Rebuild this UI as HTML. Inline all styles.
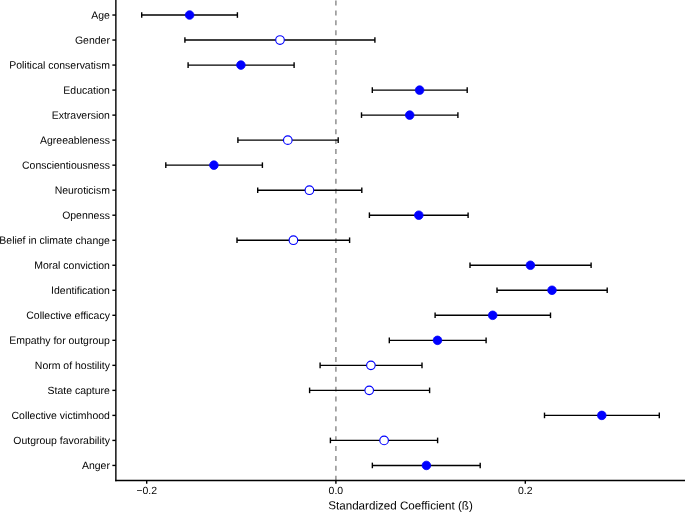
<!DOCTYPE html>
<html><head><meta charset="utf-8"><title>Forest plot</title>
<style>
html,body{margin:0;padding:0;background:#fff;}
body{width:685px;height:512px;overflow:hidden;}
svg{display:block;}
text{font-family:"Liberation Sans",sans-serif;fill:#000;text-rendering:geometricPrecision;}
#txt{filter:grayscale(1);}
</style></head><body>
<svg width="685" height="512" viewBox="0 0 685 512">
<rect x="0" y="0" width="685" height="512" fill="#ffffff"/>
<line x1="335.9" y1="0.55" x2="335.9" y2="480.5" stroke="#8c8c8c" stroke-width="1.45" stroke-dasharray="4.95 4.95"/>
<g stroke="#000" stroke-width="1.4" fill="none"><line x1="141.7" y1="15.03" x2="237.4" y2="15.03"/><line x1="141.7" y1="12.23" x2="141.7" y2="17.83"/><line x1="237.4" y1="12.23" x2="237.4" y2="17.83"/></g>
<g stroke="#000" stroke-width="1.4" fill="none"><line x1="184.9" y1="40.05" x2="374.9" y2="40.05"/><line x1="184.9" y1="37.25" x2="184.9" y2="42.85"/><line x1="374.9" y1="37.25" x2="374.9" y2="42.85"/></g>
<g stroke="#000" stroke-width="1.4" fill="none"><line x1="188.1" y1="65.08" x2="294.1" y2="65.08"/><line x1="188.1" y1="62.28" x2="188.1" y2="67.88"/><line x1="294.1" y1="62.28" x2="294.1" y2="67.88"/></g>
<g stroke="#000" stroke-width="1.4" fill="none"><line x1="372.3" y1="90.1" x2="467.2" y2="90.1"/><line x1="372.3" y1="87.3" x2="372.3" y2="92.9"/><line x1="467.2" y1="87.3" x2="467.2" y2="92.9"/></g>
<g stroke="#000" stroke-width="1.4" fill="none"><line x1="361.5" y1="115.12" x2="457.9" y2="115.12"/><line x1="361.5" y1="112.32" x2="361.5" y2="117.92"/><line x1="457.9" y1="112.32" x2="457.9" y2="117.92"/></g>
<g stroke="#000" stroke-width="1.4" fill="none"><line x1="237.9" y1="140.14" x2="338.2" y2="140.14"/><line x1="237.9" y1="137.34" x2="237.9" y2="142.94"/><line x1="338.2" y1="137.34" x2="338.2" y2="142.94"/></g>
<g stroke="#000" stroke-width="1.4" fill="none"><line x1="165.8" y1="165.17" x2="262.4" y2="165.17"/><line x1="165.8" y1="162.37" x2="165.8" y2="167.97"/><line x1="262.4" y1="162.37" x2="262.4" y2="167.97"/></g>
<g stroke="#000" stroke-width="1.4" fill="none"><line x1="257.7" y1="190.19" x2="361.8" y2="190.19"/><line x1="257.7" y1="187.39" x2="257.7" y2="192.99"/><line x1="361.8" y1="187.39" x2="361.8" y2="192.99"/></g>
<g stroke="#000" stroke-width="1.4" fill="none"><line x1="369.4" y1="215.21" x2="468.1" y2="215.21"/><line x1="369.4" y1="212.41" x2="369.4" y2="218.01"/><line x1="468.1" y1="212.41" x2="468.1" y2="218.01"/></g>
<g stroke="#000" stroke-width="1.4" fill="none"><line x1="237.0" y1="240.24" x2="349.6" y2="240.24"/><line x1="237.0" y1="237.44" x2="237.0" y2="243.04"/><line x1="349.6" y1="237.44" x2="349.6" y2="243.04"/></g>
<g stroke="#000" stroke-width="1.4" fill="none"><line x1="470.0" y1="265.26" x2="591.1" y2="265.26"/><line x1="470.0" y1="262.46" x2="470.0" y2="268.06"/><line x1="591.1" y1="262.46" x2="591.1" y2="268.06"/></g>
<g stroke="#000" stroke-width="1.4" fill="none"><line x1="497.0" y1="290.28" x2="607.2" y2="290.28"/><line x1="497.0" y1="287.48" x2="497.0" y2="293.08"/><line x1="607.2" y1="287.48" x2="607.2" y2="293.08"/></g>
<g stroke="#000" stroke-width="1.4" fill="none"><line x1="435.1" y1="315.31" x2="550.5" y2="315.31"/><line x1="435.1" y1="312.51" x2="435.1" y2="318.11"/><line x1="550.5" y1="312.51" x2="550.5" y2="318.11"/></g>
<g stroke="#000" stroke-width="1.4" fill="none"><line x1="389.3" y1="340.33" x2="486.1" y2="340.33"/><line x1="389.3" y1="337.53" x2="389.3" y2="343.13"/><line x1="486.1" y1="337.53" x2="486.1" y2="343.13"/></g>
<g stroke="#000" stroke-width="1.4" fill="none"><line x1="320.1" y1="365.35" x2="422.0" y2="365.35"/><line x1="320.1" y1="362.55" x2="320.1" y2="368.15"/><line x1="422.0" y1="362.55" x2="422.0" y2="368.15"/></g>
<g stroke="#000" stroke-width="1.4" fill="none"><line x1="309.6" y1="390.37" x2="429.6" y2="390.37"/><line x1="309.6" y1="387.57" x2="309.6" y2="393.17"/><line x1="429.6" y1="387.57" x2="429.6" y2="393.17"/></g>
<g stroke="#000" stroke-width="1.4" fill="none"><line x1="544.5" y1="415.4" x2="659.3" y2="415.4"/><line x1="544.5" y1="412.6" x2="544.5" y2="418.2"/><line x1="659.3" y1="412.6" x2="659.3" y2="418.2"/></g>
<g stroke="#000" stroke-width="1.4" fill="none"><line x1="330.4" y1="440.42" x2="437.6" y2="440.42"/><line x1="330.4" y1="437.62" x2="330.4" y2="443.22"/><line x1="437.6" y1="437.62" x2="437.6" y2="443.22"/></g>
<g stroke="#000" stroke-width="1.4" fill="none"><line x1="372.35" y1="465.44" x2="480.2" y2="465.44"/><line x1="372.35" y1="462.64" x2="372.35" y2="468.24"/><line x1="480.2" y1="462.64" x2="480.2" y2="468.24"/></g>
<circle cx="189.6" cy="15.03" r="4.3" fill="#0000ff" stroke="#0000ff" stroke-width="0.8"/>
<circle cx="280.0" cy="40.05" r="4.3" fill="#ffffff" stroke="#0000ff" stroke-width="1.15"/>
<circle cx="240.9" cy="65.08" r="4.3" fill="#0000ff" stroke="#0000ff" stroke-width="0.8"/>
<circle cx="419.6" cy="90.1" r="4.3" fill="#0000ff" stroke="#0000ff" stroke-width="0.8"/>
<circle cx="409.7" cy="115.12" r="4.3" fill="#0000ff" stroke="#0000ff" stroke-width="0.8"/>
<circle cx="287.8" cy="140.14" r="4.3" fill="#ffffff" stroke="#0000ff" stroke-width="1.15"/>
<circle cx="213.9" cy="165.17" r="4.3" fill="#0000ff" stroke="#0000ff" stroke-width="0.8"/>
<circle cx="309.4" cy="190.19" r="4.3" fill="#ffffff" stroke="#0000ff" stroke-width="1.15"/>
<circle cx="418.8" cy="215.21" r="4.3" fill="#0000ff" stroke="#0000ff" stroke-width="0.8"/>
<circle cx="293.4" cy="240.24" r="4.3" fill="#ffffff" stroke="#0000ff" stroke-width="1.15"/>
<circle cx="530.4" cy="265.26" r="4.3" fill="#0000ff" stroke="#0000ff" stroke-width="0.8"/>
<circle cx="552.0" cy="290.28" r="4.3" fill="#0000ff" stroke="#0000ff" stroke-width="0.8"/>
<circle cx="492.7" cy="315.31" r="4.3" fill="#0000ff" stroke="#0000ff" stroke-width="0.8"/>
<circle cx="437.5" cy="340.33" r="4.3" fill="#0000ff" stroke="#0000ff" stroke-width="0.8"/>
<circle cx="370.9" cy="365.35" r="4.3" fill="#ffffff" stroke="#0000ff" stroke-width="1.15"/>
<circle cx="369.2" cy="390.37" r="4.3" fill="#ffffff" stroke="#0000ff" stroke-width="1.15"/>
<circle cx="601.8" cy="415.4" r="4.3" fill="#0000ff" stroke="#0000ff" stroke-width="0.8"/>
<circle cx="384.1" cy="440.42" r="4.3" fill="#ffffff" stroke="#0000ff" stroke-width="1.15"/>
<circle cx="426.4" cy="465.44" r="4.3" fill="#0000ff" stroke="#0000ff" stroke-width="0.8"/>
<line x1="115.87" y1="0" x2="115.87" y2="481.15" stroke="#000" stroke-width="1.4"/>
<line x1="115.17" y1="480.5" x2="685" y2="480.5" stroke="#000" stroke-width="1.3"/>
<g id="txt"><line x1="112.37" y1="15.03" x2="115.87" y2="15.03" stroke="#000" stroke-width="1.4"/><text x="109.9" y="18.73" transform="rotate(0.1 109.9 18.73)" font-size="10.47" text-anchor="end">Age</text>
<line x1="112.37" y1="40.05" x2="115.87" y2="40.05" stroke="#000" stroke-width="1.4"/><text x="109.9" y="43.75" transform="rotate(0.1 109.9 43.75)" font-size="10.47" text-anchor="end">Gender</text>
<line x1="112.37" y1="65.08" x2="115.87" y2="65.08" stroke="#000" stroke-width="1.4"/><text x="109.9" y="68.78" transform="rotate(0.1 109.9 68.78)" font-size="10.47" text-anchor="end">Political conservatism</text>
<line x1="112.37" y1="90.1" x2="115.87" y2="90.1" stroke="#000" stroke-width="1.4"/><text x="109.9" y="93.80" transform="rotate(0.1 109.9 93.80)" font-size="10.47" text-anchor="end">Education</text>
<line x1="112.37" y1="115.12" x2="115.87" y2="115.12" stroke="#000" stroke-width="1.4"/><text x="109.9" y="118.82" transform="rotate(0.1 109.9 118.82)" font-size="10.47" text-anchor="end">Extraversion</text>
<line x1="112.37" y1="140.14" x2="115.87" y2="140.14" stroke="#000" stroke-width="1.4"/><text x="109.9" y="143.84" transform="rotate(0.1 109.9 143.84)" font-size="10.47" text-anchor="end">Agreeableness</text>
<line x1="112.37" y1="165.17" x2="115.87" y2="165.17" stroke="#000" stroke-width="1.4"/><text x="109.9" y="168.87" transform="rotate(0.1 109.9 168.87)" font-size="10.47" text-anchor="end">Conscientiousness</text>
<line x1="112.37" y1="190.19" x2="115.87" y2="190.19" stroke="#000" stroke-width="1.4"/><text x="109.9" y="193.89" transform="rotate(0.1 109.9 193.89)" font-size="10.47" text-anchor="end">Neuroticism</text>
<line x1="112.37" y1="215.21" x2="115.87" y2="215.21" stroke="#000" stroke-width="1.4"/><text x="109.9" y="218.91" transform="rotate(0.1 109.9 218.91)" font-size="10.47" text-anchor="end">Openness</text>
<line x1="112.37" y1="240.24" x2="115.87" y2="240.24" stroke="#000" stroke-width="1.4"/><text x="109.9" y="243.94" transform="rotate(0.1 109.9 243.94)" font-size="10.47" text-anchor="end">Belief in climate change</text>
<line x1="112.37" y1="265.26" x2="115.87" y2="265.26" stroke="#000" stroke-width="1.4"/><text x="109.9" y="268.96" transform="rotate(0.1 109.9 268.96)" font-size="10.47" text-anchor="end">Moral conviction</text>
<line x1="112.37" y1="290.28" x2="115.87" y2="290.28" stroke="#000" stroke-width="1.4"/><text x="109.9" y="293.98" transform="rotate(0.1 109.9 293.98)" font-size="10.47" text-anchor="end">Identification</text>
<line x1="112.37" y1="315.31" x2="115.87" y2="315.31" stroke="#000" stroke-width="1.4"/><text x="109.9" y="319.01" transform="rotate(0.1 109.9 319.01)" font-size="10.47" text-anchor="end">Collective efficacy</text>
<line x1="112.37" y1="340.33" x2="115.87" y2="340.33" stroke="#000" stroke-width="1.4"/><text x="109.9" y="344.03" transform="rotate(0.1 109.9 344.03)" font-size="10.47" text-anchor="end">Empathy for outgroup</text>
<line x1="112.37" y1="365.35" x2="115.87" y2="365.35" stroke="#000" stroke-width="1.4"/><text x="109.9" y="369.05" transform="rotate(0.1 109.9 369.05)" font-size="10.47" text-anchor="end">Norm of hostility</text>
<line x1="112.37" y1="390.37" x2="115.87" y2="390.37" stroke="#000" stroke-width="1.4"/><text x="109.9" y="394.07" transform="rotate(0.1 109.9 394.07)" font-size="10.47" text-anchor="end">State capture</text>
<line x1="112.37" y1="415.4" x2="115.87" y2="415.4" stroke="#000" stroke-width="1.4"/><text x="109.9" y="419.10" transform="rotate(0.1 109.9 419.10)" font-size="10.47" text-anchor="end">Collective victimhood</text>
<line x1="112.37" y1="440.42" x2="115.87" y2="440.42" stroke="#000" stroke-width="1.4"/><text x="109.9" y="444.12" transform="rotate(0.1 109.9 444.12)" font-size="10.47" text-anchor="end">Outgroup favorability</text>
<line x1="112.37" y1="465.44" x2="115.87" y2="465.44" stroke="#000" stroke-width="1.4"/><text x="109.9" y="469.14" transform="rotate(0.1 109.9 469.14)" font-size="10.47" text-anchor="end">Anger</text>
<line x1="146.7" y1="480.5" x2="146.7" y2="483.7" stroke="#000" stroke-width="1.4"/><text y="493.95" transform="rotate(0.1 146.7 493.95)" font-size="10.47" text-anchor="start"><tspan x="136.7" dy="-0.4" font-size="9.2" stroke="#000" stroke-width="0.25">−</tspan><tspan x="142.55" dy="0.4">0.2</tspan></text>
<line x1="335.9" y1="480.5" x2="335.9" y2="483.7" stroke="#000" stroke-width="1.4"/><text x="335.9" y="493.95" transform="rotate(0.1 335.9 493.95)" font-size="10.47" text-anchor="middle">0.0</text>
<line x1="525.3" y1="480.5" x2="525.3" y2="483.7" stroke="#000" stroke-width="1.4"/><text x="525.3" y="493.95" transform="rotate(0.1 525.3 493.95)" font-size="10.47" text-anchor="middle">0.2</text>
<text x="400.5" y="509.5" transform="rotate(0.1 400.5 509.5)" font-size="11.63" text-anchor="middle">Standardized Coefficient (ß)</text>
</g></svg></body></html>
